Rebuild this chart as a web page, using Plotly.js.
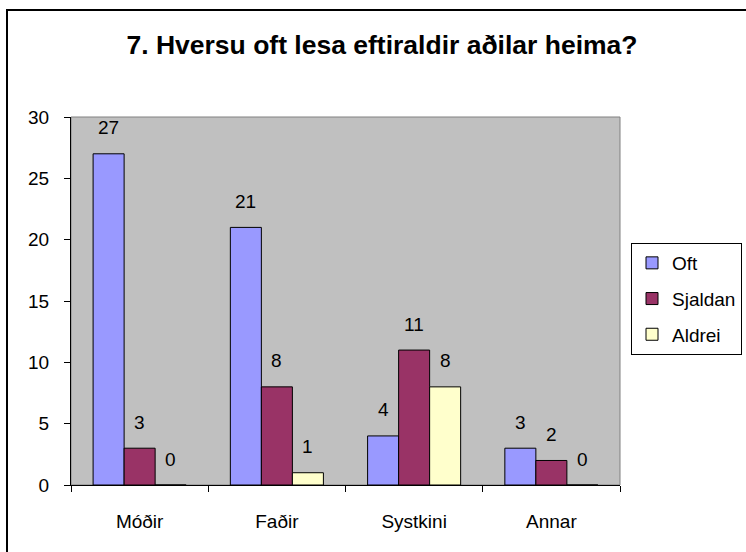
<!DOCTYPE html>
<html>
<head>
<meta charset="utf-8">
<script src="https://cdn.plot.ly/plotly-3.0.1.min.js"></script>
<style>
html,body{margin:0;padding:0;background:#fff;}
#chart{width:746px;height:552px;}
</style>
</head>
<body>
<div id="chart"></div>
<script>
// ---- data ----
const categories = ["Móðir", "Faðir", "Systkini", "Annar"];
const seriesNames = ["Oft", "Sjaldan", "Aldrei"];
const oft = [27, 21, 4, 3];
const sjaldan = [3, 8, 11, 2];
const aldrei = [0, 1, 8, 0];
const yTickVals = [0, 5, 10, 15, 20, 25, 30];
const titleText = "7. Hversu oft lesa eftiraldir aðilar heima?";

// ---- style ----
const colors = ["#9999FF", "#993366", "#FFFFCC"];
const FONT = "'Liberation Sans', Arial, sans-serif";
const W = 746, H = 552;
const margin = {l: 71, r: 126, t: 117, b: 67, pad: 0, autoexpand: false};
const plotW = W - margin.l - margin.r;
const plotH = H - margin.t - margin.b;
const bargap = 0.322;

const allValues = [oft, sjaldan, aldrei];
const traces = allValues.map((vals, s) => ({
  type: "bar",
  name: seriesNames[s],
  legendgroup: seriesNames[s],
  x: categories,
  y: vals,
  marker: {color: colors[s], line: {color: "#000", width: 1}},
  hoverinfo: "skip"
}));

// data labels placed above each bar via axis coordinates
const catW = plotW / categories.length;
const barW = catW * (1 - bargap) / seriesNames.length;
const annotations = [];
allValues.forEach((vals, s) => {
  vals.forEach((v, i) => {
    annotations.push({
      x: categories[i], y: v, xref: "x", yref: "y",
      text: String(v), showarrow: false,
      xshift: (s - (seriesNames.length - 1) / 2) * barW,
      yshift: 26,
      font: {family: FONT, size: 19, color: "#000"}
    });
  });
});

const px2x = px => (px - margin.l) / plotW;
const px2y = py => (margin.t + plotH - py) / plotH;

const layout = {
  width: W, height: H,
  margin: margin,
  paper_bgcolor: "#fff",
  plot_bgcolor: "#C0C0C0",
  font: {family: FONT, size: 19, color: "#000"},
  title: {
    text: "<b>" + titleText + "</b>",
    font: {family: FONT, size: 26.5, color: "#000"},
    x: 382 / W, xanchor: "center", xref: "container",
    y: 1 - 45 / H, yanchor: "middle", yref: "container"
  },
  barmode: "group",
  bargap: bargap,
  bargroupgap: 0,
  showlegend: true,
  legend: {
    x: px2x(631), y: px2y(243), xanchor: "left", yanchor: "top",
    bordercolor: "#000", borderwidth: 1, bgcolor: "#fff",
    font: {family: FONT, size: 19, color: "#000"},
    tracegroupgap: 8,
    traceorder: "grouped"
  },
  xaxis: {
    type: "category",
    showgrid: false, zeroline: false,
    showline: true, linecolor: "#000", linewidth: 1,
    ticks: "outside", tickson: "boundaries", ticklen: 6, tickcolor: "#000",
    ticklabelstandoff: 19,
    tickfont: {family: FONT, size: 19, color: "#000"},
    fixedrange: true
  },
  yaxis: {
    range: [0, 30],
    tickvals: yTickVals,
    showgrid: false, zeroline: false,
    showline: true, linecolor: "#000", linewidth: 1,
    ticks: "outside", ticklen: 6, tickcolor: "#000",
    ticklabelstandoff: 11,
    tickfont: {family: FONT, size: 19, color: "#000"},
    fixedrange: true
  },
  annotations: annotations,
  shapes: [
    // plot area border (gray)
    {type: "rect", xref: "paper", yref: "paper", x0: 0, x1: 1, y0: 0, y1: 1,
     line: {color: "#808080", width: 1}, fillcolor: "rgba(0,0,0,0)", layer: "below"},
    // outer chart frame (left and top visible)
    {type: "rect", xref: "paper", yref: "paper",
     x0: px2x(7), x1: px2x(W + 20), y0: px2y(H + 20), y1: px2y(10),
     line: {color: "#000", width: 2}, fillcolor: "rgba(0,0,0,0)"}
  ]
};

Plotly.newPlot("chart", traces, layout, {displayModeBar: false, staticPlot: true});
</script>
</body>
</html>
